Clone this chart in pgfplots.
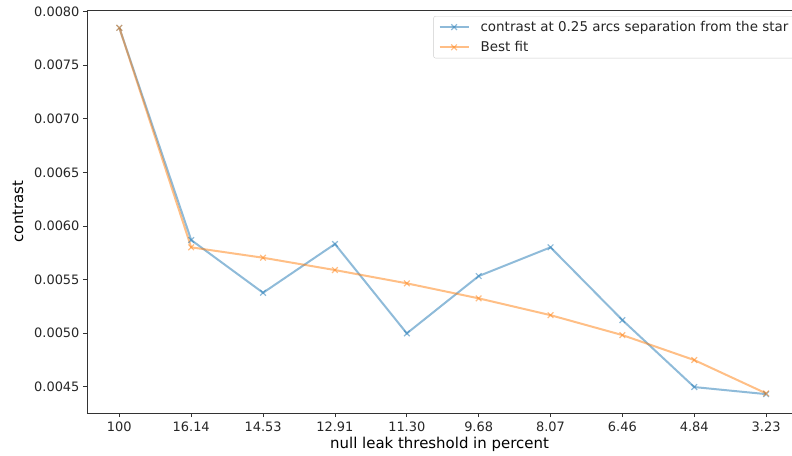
\documentclass[border=0pt]{standalone}
\usepackage{fontspec}
\setmainfont{DejaVu Sans}
\usepackage{pgfplots}
\pgfplotsset{compat=1.18}

\definecolor{mplblue}{HTML}{1F77B4}
\definecolor{mplorange}{HTML}{FF7F0E}
\definecolor{spine}{HTML}{333333}
\definecolor{ticktext}{HTML}{262626}

\begin{document}
\begin{tikzpicture}
\useasboundingbox (-87bp,-43bp) rectangle (705bp,413bp);
\begin{axis}[
  at={(0,0)}, anchor=south west,
  scale only axis,
  width=705bp, height=403bp,
  xmin=-0.45, xmax=9.36,
  ymin=0.004255, ymax=0.008016,
  axis lines*=left,
  axis line style={spine, line width=0.8bp, -},
  xtick={0,...,9},
  xticklabels={100,16.14,14.53,12.91,11.30,9.68,8.07,6.46,4.84,3.23},
  ytick={0.0045,0.0050,0.0055,0.0060,0.0065,0.0070,0.0075,0.0080},
  scaled y ticks=false,
  yticklabel style={/pgf/number format/fixed, /pgf/number format/fixed zerofill,
                    /pgf/number format/precision=4},
  /pgf/number format/assume math mode=true,
  tick align=outside,
  major tick length=4bp,
  tick style={spine, line width=0.8bp},
  ticklabel style={font=\fontsize{13}{15}\selectfont, text=ticktext},
  xticklabel style={yshift=-1bp},
  xlabel={null leak threshold in percent},
  ylabel={contrast},
  label style={font=\fontsize{15}{18}\selectfont, text=black},
  xlabel style={at={(axis description cs:0.5,0)}, anchor=center, yshift=-31bp},
  ylabel style={at={(axis description cs:0,0.5)}, anchor=center, yshift=69bp},
  legend style={
    at={(rel axis cs:1.005,0.985)}, anchor=north east,
    draw=black!20, rounded corners=2bp, fill=white,
    font=\fontsize{13.5}{16}\selectfont, text=ticktext,
    row sep=4.5bp, inner xsep=5bp, inner ysep=3bp,
    cells={anchor=west},
    /tikz/every odd column/.append style={column sep=9bp},
  },
  legend image code/.code={
    \draw[mark repeat=2, mark phase=2, #1]
      plot coordinates {(0bp,0bp) (14.5bp,0bp) (29bp,0bp)};
  },
]
\draw[spine, line width=0.8bp] (rel axis cs:0,1) -- (rel axis cs:1,1);

\addplot[color=mplblue, opacity=0.5, line width=2bp, mark=x, mark size=4bp,
         mark options={line width=1.2bp}]
  coordinates {
    (0,0.00785) (1,0.005869) (2,0.005377) (3,0.005832) (4,0.004998)
    (5,0.005533) (6,0.005801) (7,0.005122) (8,0.004497) (9,0.004431)
  };
\addlegendentry{contrast at 0.25 arcs separation from the star}

\addplot[color=mplorange, opacity=0.5, line width=2bp, mark=x, mark size=4bp,
         mark options={line width=1.2bp}]
  coordinates {
    (0,0.00785) (1,0.005801) (2,0.005704) (3,0.005589) (4,0.005465)
    (5,0.005325) (6,0.005168) (7,0.004982) (8,0.004749) (9,0.004438)
  };
\addlegendentry{Best fit}
\end{axis}
\end{tikzpicture}
\end{document}
